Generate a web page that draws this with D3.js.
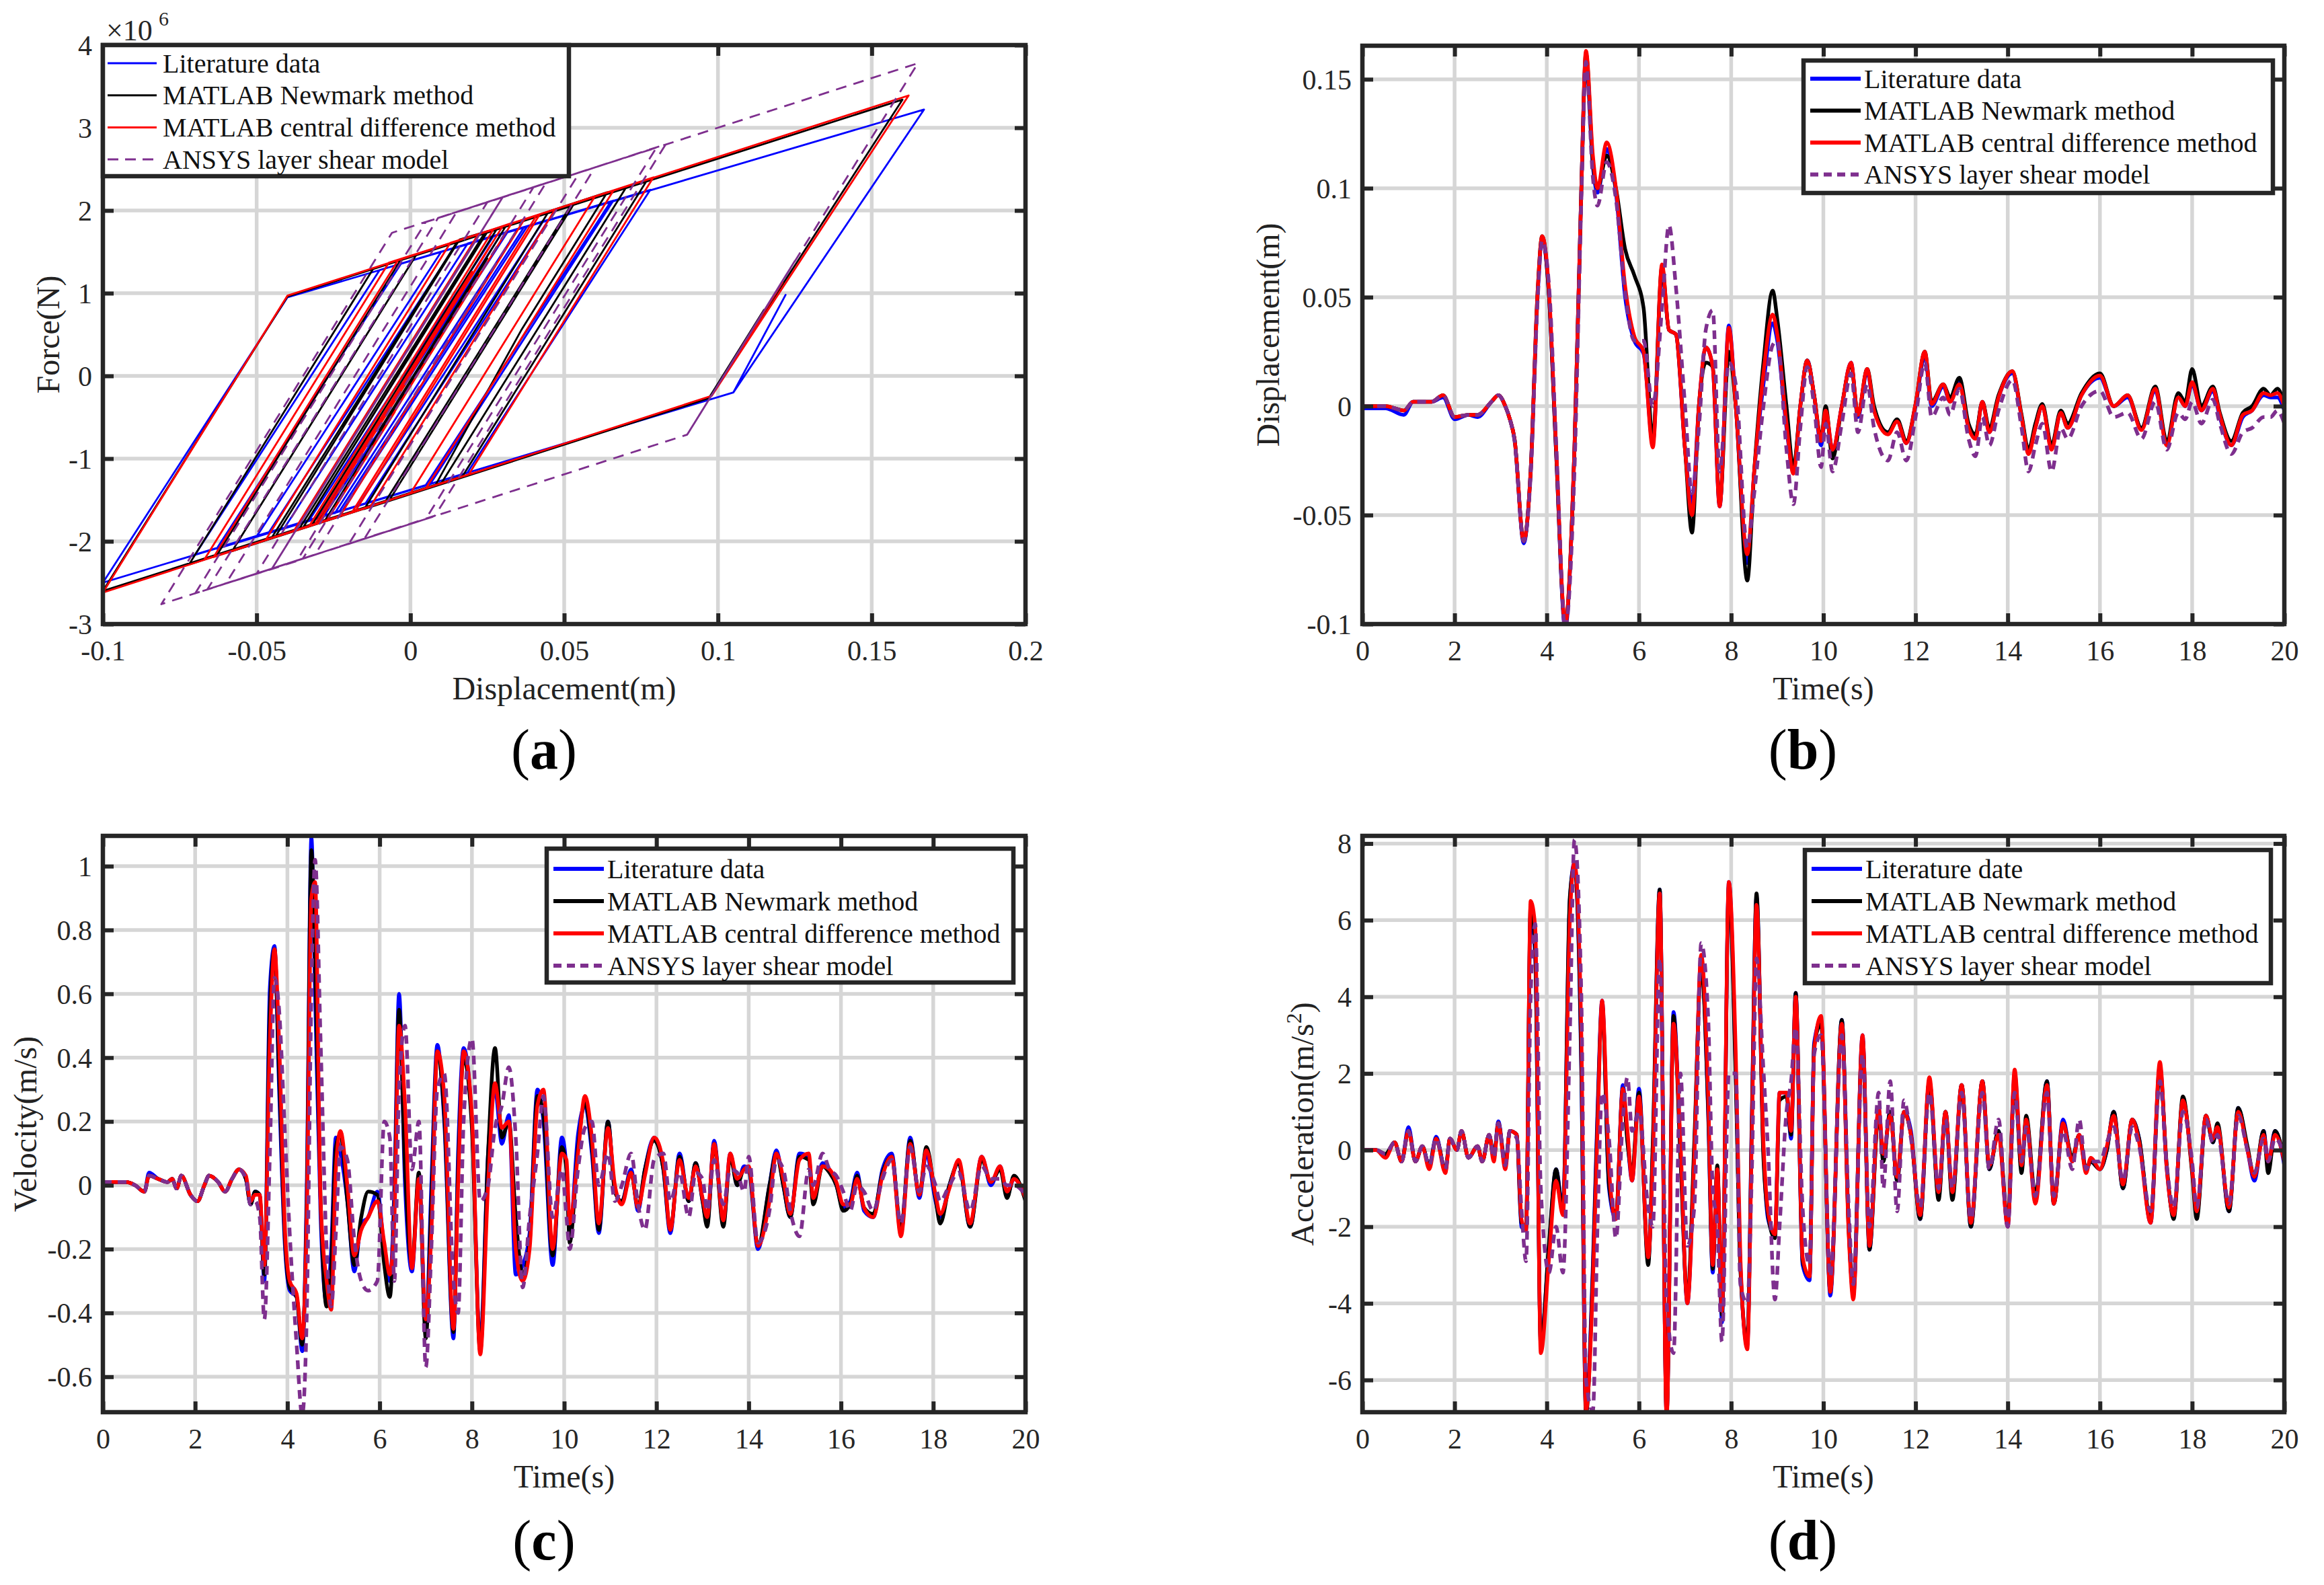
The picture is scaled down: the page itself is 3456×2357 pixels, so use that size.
<!DOCTYPE html>
<html><head><meta charset="utf-8">
<script src="https://cdn.jsdelivr.net/npm/d3@7"></script>
<style>
body{margin:0;background:#fff;}
svg{display:block;}
text{font-family:"Times New Roman","Liberation Serif",serif;}
</style>
</head><body>
<svg id="chart" width="3456" height="2357"></svg>
<script>
// ---------------- DATA ----------------
const seriesNames = ["Literature data","MATLAB Newmark method","MATLAB central difference method","ANSYS layer shear model"];
const seriesNamesD = ["Literature date","MATLAB Newmark method","MATLAB central difference method","ANSYS layer shear model"];

// (a) hysteresis loops: [displacement (m), force (x1e6 N)]
const hystLit = [[0,0],[-0.030,-1.72],[-0.063,-2.09],[-0.003,1.36],[0.078,2.25],[0.0185,-1.17],[-0.100,-2.50],[-0.040,0.95],[0.167,3.22],[0.105,-0.20],[0.122,0.98],[0.105,-0.20],[-0.017,-1.57],[0.043,1.86],[0.065,2.10],[0.033,0.27],[0.035,0.38],[0.005,-1.32],[-0.050,-1.94],[0.010,1.50],[0.027,1.69],[-0.033,-1.75],[-0.046,-1.89],[0.014,1.54],[0.037,1.80],[-0.023,-1.63],[-0.070,-2.16],[-0.010,1.28],[0.038,1.81],[-0.022,-1.62],[-0.030,-1.72],[0.021,1.22],[-0.018,-1.02],[0.020,1.16],[-0.024,-1.37],[0.017,0.99],[-0.013,-0.74],[0.025,1.45],[0.000,0.01],[0.010,0.58],[-0.015,-0.86],[0.016,0.93],[-0.018,-1.03],[0.005,0.30],[0.0296,1.72],[0.045,1.89],[-0.0146,-1.54],[-0.028,-1.69],[0.0316,1.74],[0.066,2.12],[0.0064,-1.31],[-0.041,-1.84],[0.0186,1.60],[0.035,1.78],[-0.0246,-1.66],[0.000,-0.24]];
const hystNm = [[0,0],[-0.030,-1.77],[-0.063,-2.17],[-0.003,1.41],[0.077,2.37],[0.017,-1.21],[-0.100,-2.60],[-0.040,0.96],[0.160,3.34],[0.097,-0.27],[0.115,0.80],[0.097,-0.27],[-0.015,-1.61],[0.045,1.99],[0.064,2.22],[0.036,0.55],[0.008,-1.33],[-0.058,-2.12],[0.002,1.47],[0.025,1.74],[-0.035,-1.84],[-0.044,-1.95],[0.016,1.65],[0.025,1.75],[-0.035,-1.84],[-0.072,-2.28],[-0.012,1.30],[0.053,2.07],[-0.007,-1.51],[-0.028,-1.76],[0.022,1.23],[-0.024,-1.52],[0.020,1.12],[-0.013,-0.85],[0.025,1.42],[-0.015,-0.98],[0.017,0.95],[-0.010,-0.65],[0.016,0.90],[0.031,1.81],[0.052,2.05],[-0.008,-1.51],[-0.036,-1.84],[0.024,1.72],[0.070,2.27],[0.010,-1.30],[-0.045,-1.95],[0.015,1.61],[0.028,1.77],[-0.032,-1.80],[-0.010,-0.50]];
const hystCd = [[0,0],[-0.030,-1.78],[-0.064,-2.19],[-0.004,1.40],[0.079,2.40],[0.019,-1.19],[-0.100,-2.62],[-0.040,0.97],[0.162,3.39],[0.098,-0.24],[0.121,1.13],[0.098,-0.24],[-0.019,-1.65],[0.041,1.94],[0.066,2.24],[0.034,0.33],[0.005,-1.36],[-0.047,-1.98],[0.013,1.61],[0.027,1.77],[-0.033,-1.82],[-0.047,-1.98],[0.013,1.61],[0.037,1.89],[-0.023,-1.70],[-0.067,-2.22],[-0.007,1.37],[0.042,1.95],[-0.018,-1.64],[-0.031,-1.79],[0.020,1.26],[-0.018,-1.05],[0.021,1.28],[-0.023,-1.35],[0.018,1.10],[-0.014,-0.81],[0.026,1.58],[0.000,0.02],[0.011,0.68],[-0.016,-0.94],[0.015,0.91],[-0.018,-1.06],[0.006,0.38],[0.030,1.81],[0.047,2.01],[-0.013,-1.58],[-0.030,-1.78],[0.030,1.81],[0.060,2.17],[0.000,-1.42],[-0.038,-1.88],[0.022,1.71],[0.033,1.85],[-0.027,-1.74],[-0.005,-0.43]];
const hystAn = [[0,0],[-0.037,-2.24],[-0.066,-2.58],[0.009,1.91],[0.080,2.76],[0.005,-1.73],[-0.081,-2.76],[-0.006,1.73],[0.165,3.78],[0.090,-0.71],[0.125,1.39],[0.090,-0.71],[-0.020,-2.03],[0.055,2.46],[0.083,2.80],[0.008,-1.69],[-0.050,-2.39],[0.025,2.10],[0.044,2.33],[-0.031,-2.16],[-0.045,-2.33],[0.030,2.16],[-0.045,-2.33],[-0.070,-2.63],[0.005,1.86],[0.030,2.16],[-0.045,-2.33],[0.020,1.57],[-0.030,-1.43],[0.015,1.27],[-0.030,-1.43],[0.010,0.97],[-0.028,-1.31],[0.005,0.67],[0.030,2.16],[0.060,2.52],[-0.015,-1.97],[-0.060,-2.51],[0.015,1.98],[0.040,2.28],[-0.035,-2.21],[-0.010,-0.71]];

// (b) displacement time history
const tB = [
0,0.5,0.9,1.1,1.5,1.75,2.0,2.3,2.5,2.8,
2.95,3.1,3.2,3.3,3.5,3.65,3.8,3.9,4.05,4.2,
4.4,4.6,4.75,4.85,5.0,5.1,5.3,5.5,5.7,5.9,
6.1,6.3,6.5,6.65,6.8,7.0,7.15,7.3,7.45,7.6,
7.75,7.95,8.1,8.35,8.5,8.7,8.9,9.0,9.2,9.35,
9.5,9.65,9.8,9.95,10.05,10.2,10.4,10.6,10.75,10.95,
11.1,11.4,11.6,11.8,12.0,12.2,12.35,12.6,12.75,12.95,
13.15,13.3,13.45,13.6,13.8,14.1,14.3,14.45,14.6,14.75,
14.95,15.15,15.3,15.6,16.0,16.3,16.6,16.9,17.2,17.45,
17.7,17.85,18.0,18.2,18.45,18.6,18.85,19.1,19.3,19.55,
19.7,19.85,20];
const dispLit = [
-0.001,-0.001,-0.004,0.002,0.002,0.004,-0.006,-0.004,-0.005,0.002,
0.005,0.000,-0.006,-0.015,-0.063,-0.030,0.050,0.077,0.050,-0.020,
-0.102,-0.020,0.100,0.160,0.110,0.098,0.118,0.098,0.050,0.030,
0.024,-0.017,0.062,0.035,0.033,-0.020,-0.045,0.000,0.027,0.018,
-0.046,0.037,0.000,-0.072,-0.030,0.010,0.038,0.030,-0.010,-0.030,
0.000,0.021,0.005,-0.018,-0.003,-0.020,0.000,0.020,-0.005,0.016,
-0.002,-0.012,-0.007,-0.017,0.000,0.023,0.000,0.009,0.002,0.011,
-0.010,-0.014,0.002,-0.012,0.004,0.015,-0.005,-0.021,-0.010,0.000,
-0.019,-0.003,-0.010,0.005,0.013,0.000,0.004,-0.010,0.007,-0.017,
0.004,0.000,0.010,-0.002,0.007,-0.005,-0.018,-0.005,-0.002,0.005,
0.004,0.004,-0.002];
const dispNm = [
0.000,0.000,-0.002,0.002,0.002,0.005,-0.005,-0.004,-0.004,0.002,
0.005,0.000,-0.006,-0.015,-0.062,-0.030,0.052,0.078,0.050,-0.020,
-0.100,-0.020,0.100,0.162,0.112,0.100,0.115,0.100,0.072,0.060,
0.045,-0.015,0.064,0.035,0.033,-0.020,-0.058,0.000,0.020,0.018,
-0.045,0.025,0.000,-0.080,-0.030,0.020,0.053,0.040,0.000,-0.028,
0.000,0.021,0.005,-0.015,0.000,-0.024,0.000,0.019,-0.004,0.017,
0.000,-0.012,-0.006,-0.016,0.001,0.025,0.002,0.010,0.004,0.013,
-0.008,-0.013,0.002,-0.010,0.005,0.016,-0.004,-0.020,-0.008,0.001,
-0.018,-0.002,-0.008,0.006,0.015,0.000,0.005,-0.010,0.009,-0.016,
0.006,0.002,0.017,0.000,0.009,-0.003,-0.016,-0.003,0.000,0.008,
0.005,0.008,0.001];
const dispCd = [
0.000,0.000,-0.002,0.002,0.002,0.005,-0.005,-0.004,-0.004,0.002,
0.005,0.000,-0.006,-0.015,-0.062,-0.030,0.052,0.078,0.052,-0.018,
-0.100,-0.020,0.100,0.163,0.115,0.100,0.121,0.100,0.055,0.032,
0.025,-0.019,0.065,0.035,0.033,-0.020,-0.050,0.000,0.027,0.018,
-0.046,0.036,0.000,-0.068,-0.030,0.015,0.042,0.033,-0.008,-0.031,
0.000,0.021,0.005,-0.016,-0.002,-0.020,0.000,0.020,-0.004,0.017,
-0.002,-0.013,-0.007,-0.017,0.001,0.025,0.001,0.010,0.002,0.010,
-0.010,-0.015,0.002,-0.012,0.004,0.016,-0.005,-0.022,-0.010,0.000,
-0.020,-0.003,-0.010,0.005,0.014,0.000,0.005,-0.011,0.008,-0.018,
0.004,0.000,0.011,-0.002,0.008,-0.004,-0.018,-0.004,-0.002,0.006,
0.005,0.006,0.000];
const dispAn = [
0.000,0.000,-0.002,0.002,0.002,0.005,-0.005,-0.004,-0.004,0.002,
0.005,0.000,-0.006,-0.016,-0.062,-0.032,0.048,0.076,0.055,-0.015,
-0.102,-0.030,0.095,0.158,0.105,0.092,0.112,0.095,0.052,0.030,
0.030,0.000,0.045,0.083,0.055,0.000,-0.040,-0.010,0.035,0.044,
-0.030,0.020,0.010,-0.065,-0.040,0.000,0.028,0.030,-0.020,-0.045,
-0.010,0.018,0.000,-0.028,-0.008,-0.030,-0.008,0.015,-0.012,0.010,
-0.010,-0.025,-0.012,-0.025,-0.005,0.020,-0.005,0.004,-0.004,0.008,
-0.015,-0.023,-0.005,-0.018,-0.002,0.012,-0.010,-0.030,-0.018,-0.008,
-0.030,-0.010,-0.015,0.000,0.007,-0.005,-0.003,-0.015,0.002,-0.020,
-0.003,-0.006,0.002,-0.008,0.003,-0.008,-0.022,-0.012,-0.010,-0.005,
-0.005,-0.002,-0.008];

// (c) velocity time history
const tC = [
0,0.5,0.7,0.9,1.0,1.2,1.4,1.5,1.6,1.7,
1.9,2.05,2.2,2.3,2.5,2.65,2.8,2.95,3.1,3.2,
3.3,3.4,3.5,3.62,3.72,3.82,3.95,4.05,4.2,4.32,
4.42,4.52,4.6,4.72,4.85,4.95,5.05,5.15,5.3,5.45,
5.6,5.75,5.95,6.1,6.22,6.32,6.42,6.55,6.7,6.85,
7.0,7.12,7.25,7.4,7.6,7.7,7.82,8.0,8.18,8.35,
8.5,8.65,8.8,8.95,9.1,9.25,9.42,9.55,9.75,9.95,
10.05,10.12,10.3,10.45,10.6,10.75,10.95,11.1,11.25,11.45,
11.6,11.75,11.95,12.15,12.3,12.5,12.7,12.85,13.0,13.1,
13.25,13.45,13.6,13.75,13.9,14.0,14.2,14.45,14.6,14.75,
14.9,15.1,15.3,15.4,15.6,15.75,15.9,16.05,16.2,16.35,
16.5,16.7,16.9,17.1,17.3,17.5,17.7,17.85,18.05,18.15,
18.35,18.55,18.8,19.05,19.25,19.45,19.6,19.75,20];
const velLit = [
0.01,0.01,0.00,-0.02,0.04,0.02,0.01,0.02,-0.01,0.03,
-0.03,-0.05,0.00,0.03,0.01,-0.02,0.02,0.05,0.02,-0.06,
-0.02,-0.03,-0.30,0.62,0.75,0.30,-0.20,-0.33,-0.35,-0.52,
0.00,1.09,0.60,-0.10,-0.37,-0.20,0.15,0.10,-0.05,-0.27,
-0.12,-0.10,-0.02,-0.20,-0.30,0.00,0.60,0.00,-0.27,0.03,
-0.45,0.00,0.44,0.20,-0.48,0.10,0.43,0.20,-0.50,0.10,
0.30,0.13,0.22,-0.28,-0.25,-0.15,0.30,0.20,-0.25,0.15,
0.05,-0.15,0.16,0.25,0.10,-0.15,0.20,-0.02,-0.05,0.05,
-0.08,0.05,0.15,0.05,-0.15,0.10,-0.05,0.07,-0.05,-0.12,
0.14,-0.12,0.10,0.00,0.06,0.05,-0.20,0.00,0.11,0.00,
-0.10,0.10,0.09,-0.05,0.07,0.05,0.00,-0.07,-0.05,0.04,
-0.08,-0.10,0.05,0.10,-0.15,0.15,-0.04,0.10,-0.05,-0.10,
0.00,0.07,-0.13,0.09,0.00,0.06,-0.03,0.02,-0.04];
const velNm = [
0.01,0.01,0.00,-0.02,0.03,0.02,0.01,0.02,-0.01,0.03,
-0.03,-0.05,0.00,0.03,0.01,-0.02,0.02,0.05,0.02,-0.06,
-0.02,-0.03,-0.28,0.55,0.74,0.35,-0.18,-0.32,-0.35,-0.50,
-0.05,1.05,0.70,-0.05,-0.38,-0.25,0.12,0.16,-0.05,-0.25,
-0.10,-0.02,-0.03,-0.25,-0.35,-0.05,0.55,0.05,-0.25,0.04,
-0.48,-0.05,0.42,0.22,-0.46,0.05,0.40,0.18,-0.52,0.10,
0.43,0.15,0.20,-0.10,-0.28,-0.18,0.28,0.22,-0.22,0.12,
0.05,-0.18,0.12,0.26,0.12,-0.14,0.20,-0.02,-0.05,0.04,
-0.07,0.05,0.14,0.05,-0.14,0.09,-0.05,0.07,-0.05,-0.13,
0.13,-0.13,0.09,0.00,0.05,0.05,-0.19,0.00,0.10,0.00,
-0.10,0.09,0.08,-0.06,0.06,0.04,0.00,-0.08,-0.06,0.03,
-0.07,-0.09,0.04,0.09,-0.14,0.14,-0.03,0.12,-0.04,-0.12,
0.00,0.07,-0.13,0.08,0.01,0.05,-0.04,0.03,-0.05];
const velCd = [
0.01,0.01,0.00,-0.02,0.03,0.02,0.01,0.02,-0.01,0.03,
-0.03,-0.05,0.00,0.03,0.01,-0.02,0.02,0.05,0.03,-0.05,
-0.03,-0.03,-0.25,0.45,0.74,0.45,-0.15,-0.30,-0.34,-0.48,
-0.10,0.90,0.95,-0.05,-0.30,-0.39,0.05,0.17,0.00,-0.22,
-0.14,-0.10,-0.05,-0.18,-0.28,-0.10,0.50,0.25,-0.26,0.02,
-0.42,-0.15,0.42,0.28,-0.45,0.00,0.42,0.22,-0.53,0.00,
0.32,0.18,0.20,-0.20,-0.30,-0.20,0.25,0.30,-0.20,0.10,
0.08,-0.12,0.10,0.28,0.15,-0.12,0.18,0.00,-0.06,0.04,
-0.07,0.03,0.15,0.07,-0.14,0.08,-0.04,0.06,-0.04,-0.10,
0.13,-0.11,0.10,0.02,0.05,0.06,-0.19,-0.05,0.10,0.02,
-0.09,0.08,0.10,-0.04,0.06,0.05,0.01,-0.06,-0.06,0.02,
-0.07,-0.10,0.03,0.09,-0.16,0.13,-0.03,0.11,-0.03,-0.09,
-0.01,0.08,-0.12,0.09,0.01,0.06,-0.02,0.02,-0.04];
const velAn = [
0.01,0.01,0.00,-0.02,0.03,0.02,0.01,0.02,-0.01,0.03,
-0.03,-0.05,0.00,0.03,0.01,-0.02,0.02,0.05,0.02,-0.06,
-0.05,-0.10,-0.42,0.10,0.65,0.55,0.15,-0.15,-0.50,-0.72,
-0.40,0.60,1.02,0.45,-0.20,-0.38,-0.15,0.12,0.08,-0.17,
-0.30,-0.33,-0.30,0.20,0.15,-0.30,0.30,0.50,0.05,0.20,
-0.57,-0.20,0.30,0.35,-0.30,-0.40,0.20,0.46,-0.05,0.00,
0.18,0.25,0.37,0.15,-0.32,-0.10,0.10,0.28,-0.10,0.05,
-0.10,-0.20,0.05,0.18,0.20,0.00,0.10,-0.05,0.00,0.10,
-0.06,-0.14,0.08,0.10,-0.05,0.04,-0.10,0.04,0.02,-0.08,
0.08,-0.06,0.05,0.04,-0.02,0.09,-0.18,-0.08,0.08,0.05,
-0.08,-0.16,0.05,0.00,0.10,0.05,0.03,-0.02,-0.08,0.00,
-0.02,-0.08,0.02,0.08,-0.12,0.12,-0.02,0.06,0.00,-0.05,
0.00,0.04,-0.08,0.06,0.02,0.02,0.00,0.00,-0.03];

// (d) acceleration time history
const tD = [
0,0.3,0.5,0.7,0.85,1.0,1.15,1.3,1.45,1.6,
1.8,1.9,2.05,2.15,2.3,2.5,2.6,2.75,2.85,2.95,
3.1,3.2,3.35,3.45,3.55,3.65,3.75,3.87,4.05,4.2,
4.35,4.5,4.6,4.75,4.85,5.0,5.1,5.2,5.35,5.5,
5.65,5.75,5.85,6.0,6.2,6.3,6.45,6.6,6.75,6.9,
7.05,7.2,7.35,7.5,7.6,7.7,7.8,7.95,8.1,8.2,
8.35,8.45,8.55,8.7,8.8,8.95,9.05,9.2,9.3,9.4,
9.55,9.7,9.8,9.95,10.15,10.4,10.55,10.65,10.85,11.0,
11.2,11.3,11.45,11.6,11.75,11.9,12.1,12.3,12.5,12.65,
12.8,13.0,13.2,13.45,13.6,13.8,14.0,14.15,14.3,14.4,
14.6,14.85,15.0,15.2,15.4,15.55,15.7,15.8,16.0,16.15,
16.3,16.5,16.7,16.85,17.1,17.3,17.45,17.6,17.8,18.0,
18.1,18.3,18.45,18.55,18.8,19.0,19.2,19.35,19.55,19.65,
19.8,20];
const accLit = [
0.0,0.0,-0.15,0.2,-0.3,0.6,-0.3,0.1,-0.4,0.35,
-0.55,0.3,0.0,0.5,-0.2,0.1,-0.3,0.4,-0.2,0.75,
-0.4,0.5,0.4,-2.0,-2.1,6.2,5.0,-5.0,-2.5,-0.5,
-1.5,6.5,7.5,2.0,-6.8,-3.0,1.0,3.9,-1.0,-1.8,
1.7,0.3,-0.8,1.6,-2.9,0.0,6.8,-6.9,3.6,0.0,
-4.0,0.0,5.0,1.0,-3.2,-0.5,-4.5,7.0,2.0,-3.0,
-5.1,1.0,6.6,0.0,-1.8,-2.2,1.5,1.5,0.3,4.1,
-3.0,-3.4,2.8,3.4,-3.8,3.4,-2.0,-3.8,3.0,-2.6,
1.1,-0.2,1.0,-0.8,1.0,0.5,-1.8,1.8,-1.2,1.0,
-1.2,1.7,-2.0,1.8,-0.5,0.5,-2.0,2.0,-0.5,0.8,
-1.3,1.8,-1.4,0.8,-0.3,0.4,-0.5,-0.3,-0.5,0.0,
1.0,-1.0,0.8,0.3,-1.9,2.2,-0.5,-1.7,1.3,-0.5,
-1.7,0.9,0.2,0.6,-1.6,1.1,0.0,-0.8,0.5,-0.3,
0.5,-0.4];
const accNm = [
0.0,0.0,-0.1,0.2,-0.3,0.5,-0.3,0.1,-0.4,0.3,
-0.5,0.3,0.0,0.5,-0.2,0.1,-0.3,0.4,-0.2,0.7,
-0.4,0.5,0.4,-1.9,-2.0,6.4,5.2,-5.1,-2.4,-0.5,
-1.6,6.6,7.4,2.2,-6.9,-3.2,0.8,3.8,-0.9,-1.7,
1.6,0.2,-0.6,1.5,-3.0,0.2,6.8,-6.9,3.5,-0.2,
-3.9,0.2,4.8,1.1,-3.1,-0.4,-4.3,6.9,1.8,-3.1,
-5.0,0.8,6.7,-0.2,-1.7,-2.3,1.3,1.4,0.4,4.1,
-2.9,-3.3,2.7,3.3,-3.7,3.4,-2.1,-3.7,2.9,-2.6,
1.0,-0.3,1.0,-0.8,1.0,0.4,-1.8,1.8,-1.3,1.0,
-1.3,1.7,-2.0,1.8,-0.5,0.5,-1.9,1.9,-0.6,0.9,
-1.2,1.8,-1.4,0.7,-0.2,0.4,-0.5,-0.3,-0.5,0.0,
1.0,-1.0,0.8,0.3,-1.8,2.1,-0.4,-1.8,1.4,-0.6,
-1.8,0.9,0.2,0.7,-1.6,1.1,0.1,-0.7,0.5,-0.6,
0.5,-0.3];
const accCd = [
0.0,0.0,-0.2,0.2,-0.3,0.5,-0.3,0.1,-0.5,0.3,
-0.6,0.3,0.0,0.5,-0.2,0.1,-0.3,0.4,-0.3,0.7,
-0.5,0.5,0.4,-1.8,-2.1,6.5,5.8,-5.3,-2.8,-0.8,
-1.7,6.0,7.5,3.0,-6.8,-3.5,0.5,3.9,-0.5,-1.8,
1.6,0.5,-0.8,1.4,-2.8,-0.3,6.7,-7.0,3.3,0.2,
-4.0,-0.2,5.1,1.5,-3.0,-0.5,-4.2,7.0,2.5,-2.8,
-5.2,0.5,6.4,0.2,-1.6,-2.2,1.5,1.5,0.5,4.0,
-2.8,-3.3,2.6,3.5,-3.7,3.3,-2.2,-3.9,3.0,-2.5,
1.1,-0.1,0.9,-0.7,1.0,0.4,-1.7,1.9,-1.1,1.0,
-1.1,1.7,-1.9,1.8,-0.4,0.4,-2.0,2.1,-0.4,0.8,
-1.4,1.7,-1.4,0.7,-0.3,0.4,-0.6,-0.2,-0.5,0.1,
0.9,-0.9,0.8,0.2,-1.9,2.3,-0.5,-1.7,1.3,-0.5,
-1.6,0.9,0.3,0.6,-1.5,1.0,0.0,-0.7,0.4,-0.3,
0.4,-0.3];
const accAn = [
0.0,0.0,-0.1,0.2,-0.3,0.5,-0.3,0.1,-0.4,0.3,
-0.5,0.3,0.0,0.5,-0.2,0.1,-0.3,0.4,-0.2,0.7,
-0.4,0.5,0.3,-1.5,-2.9,4.0,5.9,-1.0,-3.2,-2.0,
-3.2,3.0,8.1,4.0,-6.0,-6.8,-2.0,1.5,0.3,-2.3,
0.8,1.9,0.5,1.0,-1.5,-2.0,5.0,-4.0,-5.3,2.0,
-2.5,-1.5,5.4,3.5,-1.0,-2.0,-5.0,2.0,2.0,-3.5,
-4.0,-0.5,5.0,2.1,0.0,-3.9,-2.0,1.0,1.8,3.2,
-1.5,-3.0,2.5,3.0,-3.3,3.0,-1.5,-3.5,2.5,-2.0,
1.5,-1.0,1.8,-1.6,1.3,0.3,-1.5,1.5,-1.0,0.8,
-1.0,1.5,-1.8,1.5,-0.5,0.8,-2.0,1.5,-0.3,0.6,
-1.2,1.5,-1.2,0.5,-0.5,0.8,-0.5,-0.3,-0.3,0.2,
0.6,-0.8,0.6,0.1,-1.6,1.8,-0.4,-1.5,1.0,-0.3,
-1.5,0.8,0.2,0.4,-1.4,0.9,0.0,-0.6,0.3,-0.3,
0.3,-0.1];

// tick values and labels
const xTicksA = [-0.1,-0.05,0,0.05,0.1,0.15,0.2];
const xLabelsA = ["-0.1","-0.05","0","0.05","0.1","0.15","0.2"];
const yTicksA = [-3,-2,-1,0,1,2,3,4];
const yLabelsA = ["-3","-2","-1","0","1","2","3","4"];
const xTicksT = [0,2,4,6,8,10,12,14,16,18,20];
const xLabelsT = ["0","2","4","6","8","10","12","14","16","18","20"];
const yTicksB = [-0.1,-0.05,0,0.05,0.1,0.15];
const yLabelsB = ["-0.1","-0.05","0","0.05","0.1","0.15"];
const yTicksC = [-0.6,-0.4,-0.2,0,0.2,0.4,0.6,0.8,1];
const yLabelsC = ["-0.6","-0.4","-0.2","0","0.2","0.4","0.6","0.8","1"];
const yTicksD = [-6,-4,-2,0,2,4,6,8];
const yLabelsD = ["-6","-4","-2","0","2","4","6","8"];

// ---------------- DRAW ----------------
const svg = d3.select("#chart");
svg.append("rect").attr("width",3456).attr("height",2357).attr("fill","#fff");
const COL = ["#0000ff","#000000","#ff0000","#7e2f8e"];
const AX = "#262626";

function drawPanel(cfg){
  const x = d3.scaleLinear().domain(cfg.xd).range([cfg.l, cfg.r]);
  const y = d3.scaleLinear().domain(cfg.yd).range([cfg.b, cfg.t]);
  const g = svg.append("g");
  // grid
  g.selectAll(".gx").data(cfg.xt).join("line")
    .attr("x1",d=>x(d)).attr("x2",d=>x(d)).attr("y1",cfg.t).attr("y2",cfg.b)
    .attr("stroke","#d6d6d6").attr("stroke-width",5.5);
  g.selectAll(".gy").data(cfg.yt).join("line")
    .attr("y1",d=>y(d)).attr("y2",d=>y(d)).attr("x1",cfg.l).attr("x2",cfg.r)
    .attr("stroke","#d6d6d6").attr("stroke-width",5.5);
  // clip
  const cid = "clip"+cfg.id;
  svg.append("clipPath").attr("id",cid).append("rect")
    .attr("x",cfg.l).attr("y",cfg.t).attr("width",cfg.r-cfg.l).attr("height",cfg.b-cfg.t);
  const cg = g.append("g").attr("clip-path","url(#"+cid+")");
  const line = d3.line().x(d=>x(d[0])).y(d=>y(d[1])).curve(cfg.curve);
  cfg.series.forEach((s,i)=>{
    cg.append("path").datum(s).attr("d",line).attr("fill","none")
      .attr("stroke",COL[i]).attr("stroke-width",cfg.lw)
      .attr("stroke-linejoin","round")
      .attr("stroke-dasharray", i===3 ? cfg.dash : null);
  });
  // axes with inward ticks
  const fmt = (ticks,labels)=> (d)=> labels[ticks.indexOf(d)];
  const ax = g.append("g").attr("transform",`translate(0,${cfg.b})`)
    .call(d3.axisBottom(x).tickValues(cfg.xt).tickFormat(fmt(cfg.xt,cfg.xl)).tickSize(-16).tickPadding(24));
  const ay = g.append("g").attr("transform",`translate(${cfg.l},0)`)
    .call(d3.axisLeft(y).tickValues(cfg.yt).tickFormat(fmt(cfg.yt,cfg.yl)).tickSize(-16).tickPadding(16));
  const axT = g.append("g").attr("transform",`translate(0,${cfg.t})`)
    .call(d3.axisTop(x).tickValues(cfg.xt).tickFormat("").tickSize(-16));
  const ayR = g.append("g").attr("transform",`translate(${cfg.r},0)`)
    .call(d3.axisRight(y).tickValues(cfg.yt).tickFormat("").tickSize(-16));
  [ax,ay,axT,ayR].forEach(a=>{
    a.select(".domain").remove();
    a.selectAll(".tick line").attr("stroke",AX).attr("stroke-width",6);
    a.selectAll("text").attr("font-size",42).attr("fill",AX)
      .attr("font-family",'"Times New Roman","Liberation Serif",serif');
  });
  ay.selectAll("text").attr("dy","0.34em");
  // frame
  g.append("rect").attr("x",cfg.l).attr("y",cfg.t).attr("width",cfg.r-cfg.l).attr("height",cfg.b-cfg.t)
    .attr("fill","none").attr("stroke",AX).attr("stroke-width",6.5);
  // axis titles
  g.append("text").attr("x",(cfg.l+cfg.r)/2).attr("y",cfg.b+112).attr("text-anchor","middle")
    .attr("font-size",48).attr("fill","#222").text(cfg.xTitle);
  const yt = g.append("text").attr("transform",`translate(${cfg.yTitleX},${(cfg.t+cfg.b)/2}) rotate(-90)`)
    .attr("text-anchor","middle").attr("font-size",48).attr("fill","#222");
  yt.append("tspan").text(cfg.yTitle[0]);
  if (cfg.yTitle.length>1){
    yt.append("tspan").attr("font-size",32).attr("dy",-18).text(cfg.yTitle[1]);
    yt.append("tspan").attr("dy",18).text(cfg.yTitle[2]);
  }
  // legend
  const L = cfg.leg;
  const lg = g.append("g");
  lg.append("rect").attr("x",L.x).attr("y",L.y).attr("width",L.w).attr("height",L.h)
    .attr("fill","#fff").attr("stroke",AX).attr("stroke-width",6.5);
  cfg.names.forEach((n,i)=>{
    const yy = L.y + L.first + i*L.step;
    lg.append("line").attr("x1",L.x+L.s0).attr("x2",L.x+L.s1).attr("y1",yy).attr("y2",yy)
      .attr("stroke",COL[i]).attr("stroke-width",L.lw)
      .attr("stroke-dasharray", i===3 ? L.dash : null);
    lg.append("text").attr("x",L.x+L.tx).attr("y",yy).attr("dy","0.34em")
      .attr("font-size",40).attr("fill","#111").text(n);
  });
  // subfigure label
  const sl = svg.append("text").attr("x",cfg.labX).attr("y",cfg.labY).attr("text-anchor","middle")
    .attr("font-size",84).attr("fill","#000");
  sl.append("tspan").text("(");
  sl.append("tspan").attr("font-weight","bold").text(cfg.id);
  sl.append("tspan").text(")");
  return {x,y,g};
}

const zipT = (t,v)=> t.map((d,i)=>[d,v[i]]);

const pa = drawPanel({id:"a", l:153, r:1525, t:67, b:928, xd:[-0.1,0.2], yd:[-3,4],
  xt:xTicksA, xl:xLabelsA, yt:yTicksA, yl:yLabelsA,
  series:[hystLit,hystNm,hystCd,hystAn], curve:d3.curveLinear, lw:2.8, dash:"16,11",
  xTitle:"Displacement(m)", yTitle:["Force(N)"], yTitleX:88,
  leg:{x:153,y:67,w:693,h:195,first:27,step:47.7,s0:7,s1:80,tx:89,lw:3,dash:"16,10"},
  names:seriesNames, labX:809, labY:1143});
// x10^6 multiplier
pa.g.append("text").attr("x",158).attr("y",60).attr("font-size",44).attr("fill",AX).text("\u00d710");
pa.g.append("text").attr("x",236).attr("y",38).attr("font-size",30).attr("fill",AX).text("6");

drawPanel({id:"b", l:2026, r:3397, t:68, b:928, xd:[0,20], yd:[-0.1,0.1654],
  xt:xTicksT, xl:xLabelsT, yt:yTicksB, yl:yLabelsB,
  series:[zipT(tB,dispLit),zipT(tB,dispNm),zipT(tB,dispCd),zipT(tB,dispAn)],
  curve:d3.curveMonotoneX, lw:5.5, dash:"13,9",
  xTitle:"Time(s)", yTitle:["Displacement(m)"], yTitleX:1902,
  leg:{x:2682,y:90,w:698,h:197,first:27,step:47.5,s0:10,s1:85,tx:90,lw:6,dash:"12,8"},
  names:seriesNames, labX:2681, labY:1143});

drawPanel({id:"c", l:153, r:1525, t:1243, b:2100, xd:[0,20], yd:[-0.711,1.095],
  xt:xTicksT, xl:xLabelsT, yt:yTicksC, yl:yLabelsC,
  series:[zipT(tC,velLit),zipT(tC,velNm),zipT(tC,velCd),zipT(tC,velAn)],
  curve:d3.curveMonotoneX, lw:5.5, dash:"13,9",
  xTitle:"Time(s)", yTitle:["Velocity(m/s)"], yTitleX:54,
  leg:{x:813,y:1262,w:694,h:199,first:30,step:48,s0:10,s1:85,tx:90,lw:6,dash:"12,8"},
  names:seriesNames, labX:809, labY:2319});

drawPanel({id:"d", l:2026, r:3397, t:1243, b:2100, xd:[0,20], yd:[-6.84,8.2],
  xt:xTicksT, xl:xLabelsT, yt:yTicksD, yl:yLabelsD,
  series:[zipT(tD,accLit),zipT(tD,accNm),zipT(tD,accCd),zipT(tD,accAn)],
  curve:d3.curveMonotoneX, lw:5.5, dash:"13,9",
  xTitle:"Time(s)", yTitle:["Acceleration(m/s","2",")"], yTitleX:1953,
  leg:{x:2684,y:1264,w:693,h:198,first:28,step:48,s0:10,s1:85,tx:90,lw:6,dash:"12,8"},
  names:seriesNamesD, labX:2681, labY:2319});
</script>
</body></html>
